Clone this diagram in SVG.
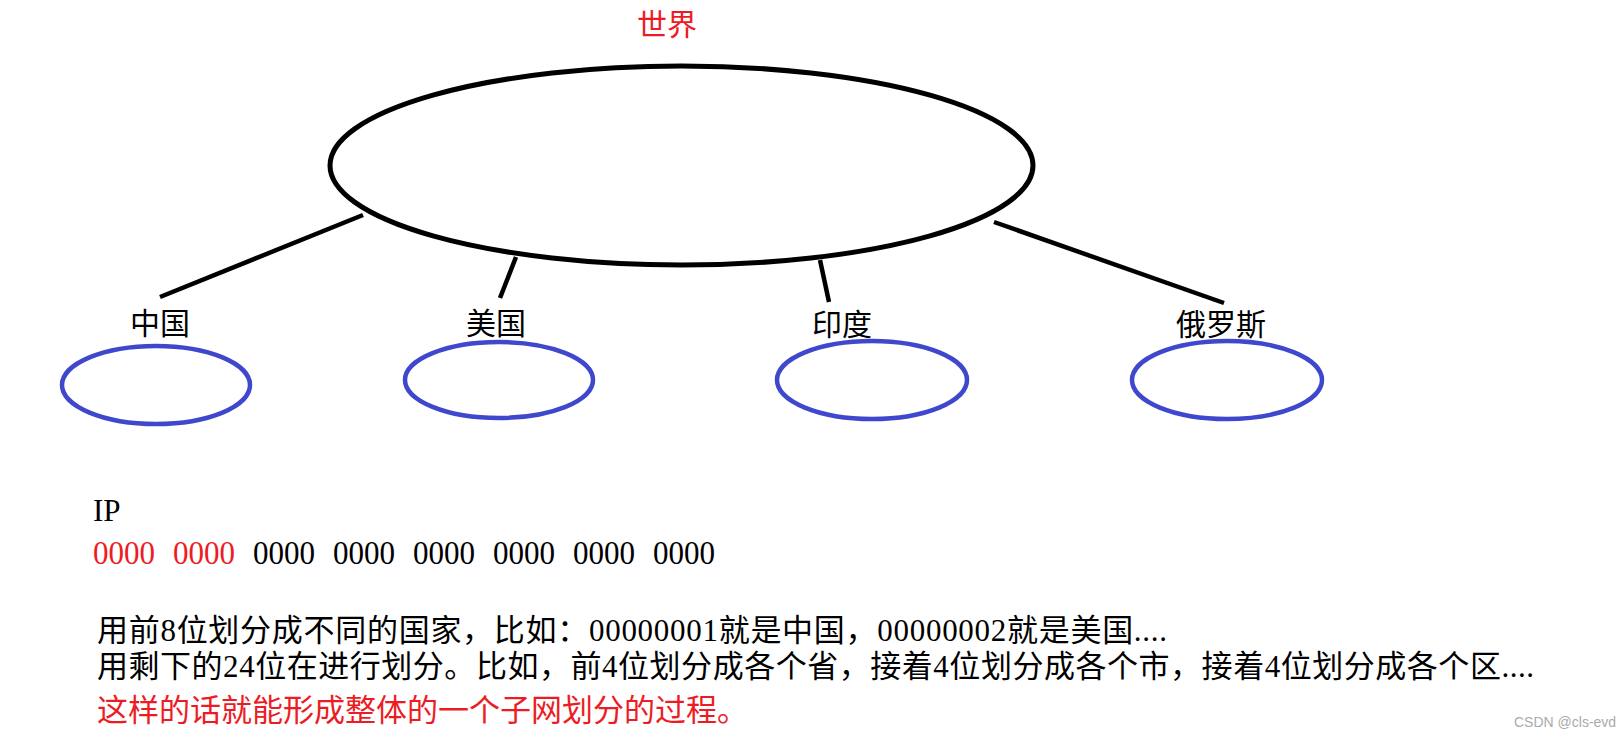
<svg xmlns="http://www.w3.org/2000/svg" width="1617" height="737" viewBox="0 0 1617 737">
<style>
.bg{fill:#ffffff}
.world{fill:none;stroke:#000;stroke-width:5}
.country{fill:none;stroke:#3f48cc;stroke-width:4.5}
.conn{stroke:#000;stroke-width:4.5;stroke-linecap:butt}
.lbl{font-family:'Liberation Serif','Noto Sans CJK SC',serif;font-size:30px;fill:#000;text-anchor:middle}
.txt{font-family:'Liberation Serif','Noto Sans CJK SC',serif;font-size:31px;fill:#000}
.dig{font-family:'Liberation Serif',serif;font-size:34px;fill:#000}
.wm{font-family:'Liberation Sans',sans-serif;font-size:14px;fill:#aaaaaa}
text.red{fill:#ed1c24}
</style>
<rect class="bg" x="0" y="0" width="1617" height="737"/>
<g id="connectors">
<line class="conn" x1="363" y1="215" x2="160" y2="297"/>
<line class="conn" x1="516" y1="257" x2="500" y2="298"/>
<line class="conn" x1="820" y1="260" x2="829" y2="302"/>
<line class="conn" x1="994" y1="222" x2="1224" y2="303"/>
</g>
<g id="world">
<text class="lbl red" x="667" y="35">世界</text>
<ellipse class="world" cx="681.5" cy="165.5" rx="351.5" ry="99.5"/>
</g>
<g id="china">
<text class="lbl" x="160" y="334">中国</text>
<ellipse class="country" cx="156" cy="385" rx="94" ry="39"/>
</g>
<g id="usa">
<text class="lbl" x="496" y="334">美国</text>
<ellipse class="country" cx="499" cy="380" rx="94" ry="38"/>
</g>
<g id="india">
<text class="lbl" x="842" y="335">印度</text>
<ellipse class="country" cx="872" cy="380" rx="95" ry="39"/>
</g>
<g id="russia">
<text class="lbl" x="1221" y="335">俄罗斯</text>
<ellipse class="country" cx="1227" cy="380" rx="95" ry="39"/>
</g>
<g id="ip-text">
<text class="txt" x="93" y="521">IP</text>
<text class="dig red" x="93" y="564" textLength="62" lengthAdjust="spacingAndGlyphs">0000</text>
<text class="dig red" x="173" y="564" textLength="62" lengthAdjust="spacingAndGlyphs">0000</text>
<text class="dig" x="253" y="564" textLength="62" lengthAdjust="spacingAndGlyphs">0000</text>
<text class="dig" x="333" y="564" textLength="62" lengthAdjust="spacingAndGlyphs">0000</text>
<text class="dig" x="413" y="564" textLength="62" lengthAdjust="spacingAndGlyphs">0000</text>
<text class="dig" x="493" y="564" textLength="62" lengthAdjust="spacingAndGlyphs">0000</text>
<text class="dig" x="573" y="564" textLength="62" lengthAdjust="spacingAndGlyphs">0000</text>
<text class="dig" x="653" y="564" textLength="62" lengthAdjust="spacingAndGlyphs">0000</text>
<text class="txt" x="97" y="641" textLength="1070">用前8位划分成不同的国家，比如：00000001就是中国，00000002就是美国....</text>
<text class="txt" x="97" y="677" textLength="1437">用剩下的24位在进行划分。比如，前4位划分成各个省，接着4位划分成各个市，接着4位划分成各个区....</text>
<text class="txt red" x="97" y="721">这样的话就能形成整体的一个子网划分的过程。</text>
</g>
<text class="wm" x="1514" y="727">CSDN @cls-evd</text>
</svg>
